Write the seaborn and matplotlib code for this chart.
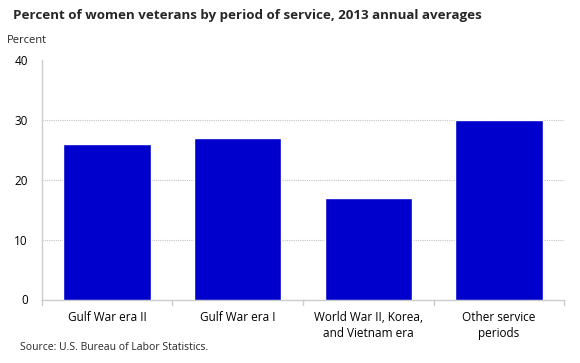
import matplotlib
matplotlib.use("Agg")
import matplotlib.pyplot as plt
import seaborn as sns
import pandas as pd

categories = ["Gulf War era II", "Gulf War era I", "World War II, Korea,\nand Vietnam era", "Other service\nperiods"]
values = [26, 27, 17, 30]
yticks = [0, 10, 20, 30, 40]

sns.set_theme(style="white")
plt.rcParams['font.family'] = ['Open Sans', 'DejaVu Sans']

df = pd.DataFrame({"period": categories, "pct": values})

fig = plt.figure(figsize=(5.8, 3.63), dpi=100)
ax = fig.add_axes([41.7/580, 1-299.5/363, (564.3-41.7)/580, (299.5-60.5)/363])
sns.barplot(data=df, x="period", y="pct", color="#0000CC", saturation=1, width=0.667, ax=ax, zorder=3)

ax.set_ylim(0, 40)
ax.set_xlim(-0.5, 3.5)
ax.set_yticks(yticks)
ax.set_yticklabels([str(t) for t in yticks], fontsize=8.5, color="#000000")
ax.tick_params(axis='y', length=0, pad=10)
ax.tick_params(axis='x', length=0, pad=8, labelsize=8.5, labelcolor="#000000")
for lbl in ax.get_xticklabels():
    lbl.set_linespacing(1.35)
ax.set_xlabel("")
ax.set_ylabel("")
for t in [10, 20, 30, 40]:
    ax.axhline(t, color="#c4c4c4", lw=0.8, ls=(0, (1, 1)), zorder=1)
for s in ["top", "right"]:
    ax.spines[s].set_visible(False)
for s in ["left", "bottom"]:
    ax.spines[s].set_color("#cccccc")
    ax.spines[s].set_linewidth(1)
# category boundary ticks
for b in [-0.5, 0.5, 1.5, 2.5, 3.5]:
    ax.plot([b, b], [0, -0.85], color="#cccccc", lw=1, clip_on=False, zorder=2)

fig.text(13/580, 1-15.7/363, "Percent of women veterans by period of service, 2013 annual averages",
         fontsize=9.6, fontweight="bold", va="center", ha="left")
fig.text(7.3/580, 1-40.7/363, "Percent", fontsize=8, va="center", ha="left")
fig.text(20/580, 1-348/363, "Source: U.S. Bureau of Labor Statistics.", fontsize=7.5, va="center", ha="left")

fig.savefig("out.png", dpi=100)
